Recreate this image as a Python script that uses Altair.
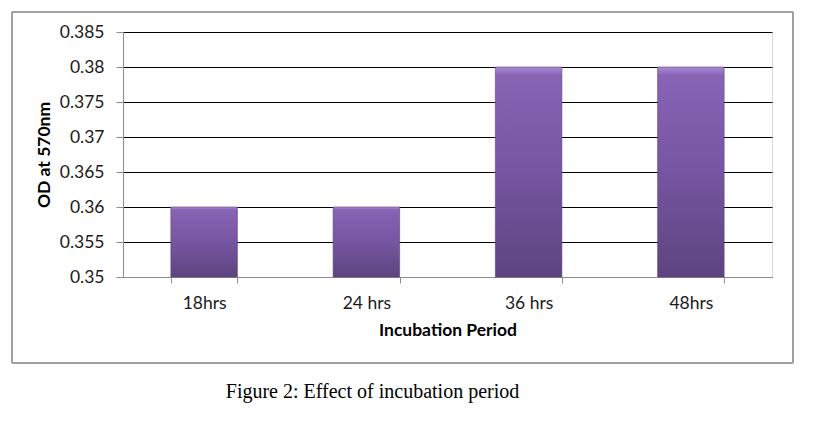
import altair as alt
import pandas as pd

periods = ["18hrs", "24 hrs", "36 hrs", "48hrs"]
od_values = [0.36, 0.36, 0.38, 0.38]
y_ticks = [0.35, 0.355, 0.36, 0.365, 0.37, 0.375, 0.38, 0.385]
y_base = 0.35

df = pd.DataFrame({"period": periods, "od": od_values})

FONT = "Lato"

grad = alt.LinearGradient(
    gradient="linear",
    stops=[
        alt.GradientStop(color="#a98bd6", offset=0),
        alt.GradientStop(color="#8764b4", offset=0.04),
        alt.GradientStop(color="#7857a4", offset=0.45),
        alt.GradientStop(color="#5d4480", offset=1),
    ],
    x1=0, x2=0, y1=0, y2=1,
)

bars = alt.Chart(df).mark_bar(color=grad, stroke="#5a4279", strokeWidth=0.6).encode(
    x=alt.X(
        "period:N",
        sort=periods,
        scale=alt.Scale(paddingInner=0.59, paddingOuter=0.295),
        axis=alt.Axis(
            title="Incubation Period",
            labelAngle=0,
            labelFont=FONT,
            labelFontSize=17.5,
            labelColor="#1a1a1a",
            labelPadding=11,
            titleFont=FONT,
            titleFontSize=17.5,
            titleFontWeight="bold",
            titleColor="#000000",
            titlePadding=10,
            domainColor="#8c8c8c",
            tickColor="#8c8c8c",
            tickSize=6,
            tickBand="extent",
            grid=False,
        ),
    ),
    y=alt.Y(
        "od:Q",
        scale=alt.Scale(domain=[0.35, 0.385], nice=False, zero=False),
        axis=alt.Axis(
            title="OD at 570nm",
            values=y_ticks,
            format=".3~f",
            labelFont=FONT,
            labelFontSize=17.5,
            labelColor="#1a1a1a",
            labelPadding=12,
            titleFont=FONT,
            titleFontSize=17.5,
            titleFontWeight="bold",
            titleColor="#000000",
            titlePadding=6,
            domainColor="#8c8c8c",
            tickColor="#8c8c8c",
            tickSize=7,
            gridColor="#000000",
            gridWidth=1,
            gridOpacity=1,
        ),
    ),
    y2=alt.datum(y_base),
)

border = alt.Chart(df).mark_rect(fill=None, stroke="#9a9a9a", strokeWidth=1).encode(
    x=alt.value(-111), x2=alt.value(670), y=alt.value(-20), y2=alt.value(331)
)

chart = alt.layer(border, bars).properties(
    width=649,
    height=245,
    padding={"left": 115, "top": 24, "right": 44, "bottom": 135},
    autosize=alt.AutoSizeParams(type="none"),
    title=alt.TitleParams(
        text="Figure 2: Effect of incubation period",
        orient="bottom",
        anchor="middle",
        font="Liberation Serif",
        fontSize=20,
        fontWeight="normal",
        color="#000000",
        dx=-75,
        offset=18,
    ),
).configure_view(stroke=None).configure(background="white")

chart.save("out.html", embed_options={"renderer": "svg", "actions": False})
